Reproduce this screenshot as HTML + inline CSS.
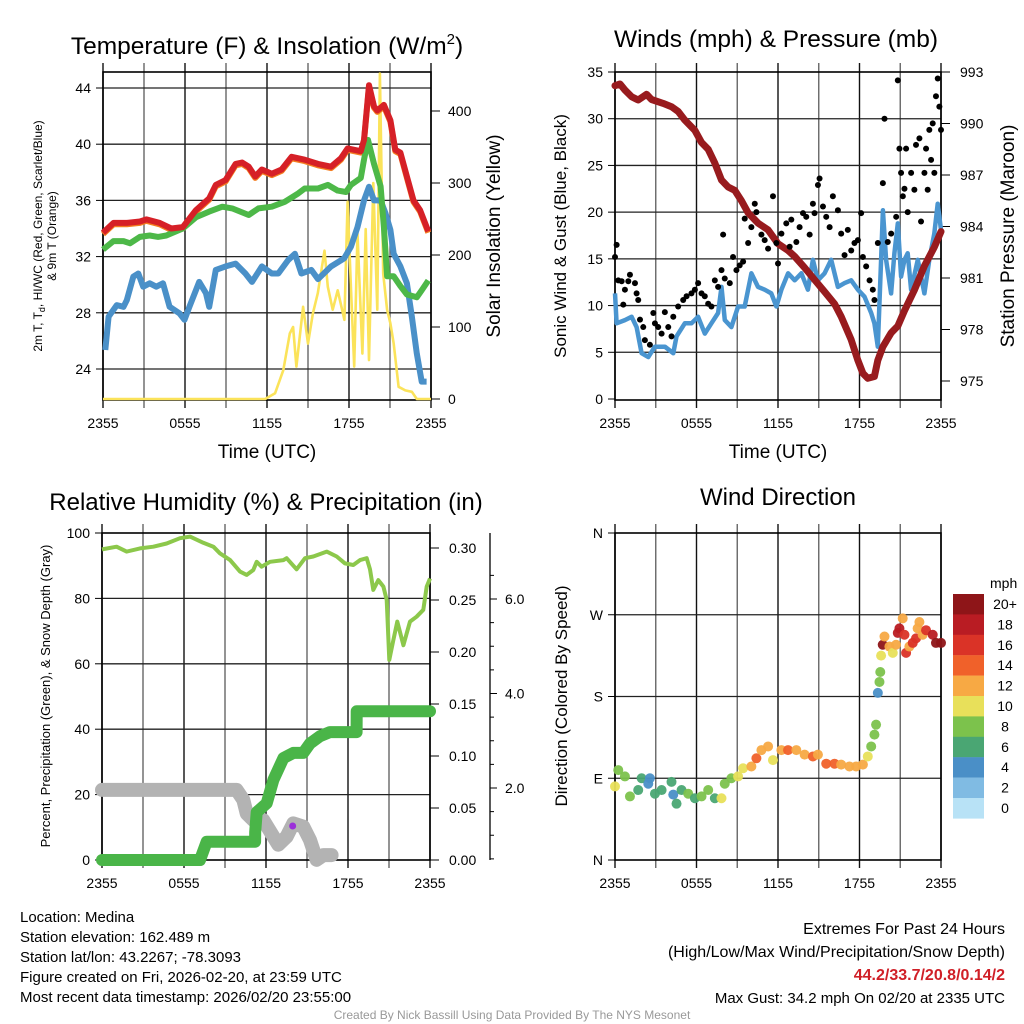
<!DOCTYPE html>
<html><head><meta charset="utf-8">
<style>
html,body{margin:0;padding:0;background:#fff;}
svg{display:block;font-family:"Liberation Sans",Arial,sans-serif;}
</style></head>
<body>
<svg id="fig" width="1024" height="1024" viewBox="0 0 1024 1024" xmlns="http://www.w3.org/2000/svg">
<text x="267" y="54" font-size="24.5" text-anchor="middle">Temperature (F) &amp; Insolation (W/m<tspan font-size="15" dy="-10">2</tspan><tspan dy="10">)</tspan></text>
<text x="776" y="47" font-size="24.5" text-anchor="middle">Winds (mph) &amp; Pressure (mb)</text>
<text x="266" y="510" font-size="24" text-anchor="middle">Relative Humidity (%) &amp; Precipitation (in)</text>
<text x="778" y="505" font-size="24" text-anchor="middle">Wind Direction</text>

<text transform="translate(42,236) rotate(-90)" font-size="12" text-anchor="middle">2m T, T<tspan font-size="9" dy="3">d</tspan><tspan dy="-3">, HI/WC (Red, Green, Scarlet/Blue)</tspan></text>
<text transform="translate(56,236) rotate(-90)" font-size="12" text-anchor="middle">&amp; 9m T (Orange)</text>
<text transform="translate(500,236) rotate(-90)" font-size="19" text-anchor="middle">Solar Insolation (Yellow)</text>
<text x="267" y="458" font-size="19" text-anchor="middle">Time (UTC)</text>
<text transform="translate(566,236) rotate(-90)" font-size="17" text-anchor="middle">Sonic Wind &amp; Gust (Blue, Black)</text>
<text transform="translate(1014,236) rotate(-90)" font-size="19" text-anchor="middle">Station Pressure (Maroon)</text>
<text x="778" y="458" font-size="19" text-anchor="middle">Time (UTC)</text>
<text transform="translate(50,696) rotate(-90)" font-size="13" text-anchor="middle">Percent, Precipitation (Green), &amp; Snow Depth (Gray)</text>
<text transform="translate(567,696) rotate(-90)" font-size="17" text-anchor="middle">Direction (Colored By Speed)</text>
<g id="layer"></g>
<g font-size="15">
<text x="20" y="922">Location: Medina</text>
<text x="20" y="942">Station elevation: 162.489 m</text>
<text x="20" y="962">Station lat/lon: 43.2267; -78.3093</text>
<text x="20" y="982">Figure created on Fri, 2026-02-20, at 23:59 UTC</text>
<text x="20" y="1002">Most recent data timestamp: 2026/02/20 23:55:00</text>
</g>
<g font-size="16" text-anchor="end">
<text x="1005" y="934">Extremes For Past 24 Hours</text>
<text x="1005" y="957">(High/Low/Max Wind/Precipitation/Snow Depth)</text>
<text x="1005" y="980" fill="#d01f27" font-weight="bold">44.2/33.7/20.8/0.14/2</text>
<text x="1005" y="1003" font-size="15">Max Gust: 34.2 mph On 02/20 at 2335 UTC</text>
</g>
<text x="512" y="1019" font-size="12" fill="#999" text-anchor="middle">Created By Nick Bassill Using Data Provided By The NYS Mesonet</text>
</svg>
<script>
// ---- Shared time axis ----
const timeTicks = ["2355","0555","1155","1755","2355"];
// ---- Panel 1: temperature (hours since 2355, deg F) ----
const tempT = [0,0.77,1.74,2.7,3.18,4.15,5.0,5.84,6.8,7.77,8.25,8.97,9.7,10.18,10.66,11.14,11.63,12.35,13.07,13.8,14.76,15.73,16.69,17.41,17.9,18.86,19.1,19.46,19.83,20.07,20.55,21.03,21.39,21.76,22.24,22.72,23.2,23.8];
const tempV = [33.7,34.4,34.4,34.5,34.65,34.4,34.0,34.1,35.3,36.15,37.1,37.45,38.6,38.7,38.4,37.7,38.2,37.9,38.2,39.1,38.9,38.6,38.4,39.0,39.7,39.5,40.3,44.2,42.7,42.4,42.8,41.7,39.6,39.4,37.7,36.0,35.3,33.8];
const dewT = [0,0.77,1.5,1.98,2.7,3.42,4.03,4.63,5.84,6.8,7.77,8.73,9.45,10.66,11.38,12.35,13.3,14.28,14.76,15.73,16.45,17.17,17.78,18.14,18.86,19.1,19.39,19.83,20.31,20.55,20.79,21.27,21.76,22.24,22.96,23.32,23.8];
const dewV = [32.5,33.1,33.1,32.95,33.4,33.5,33.4,33.5,34.0,34.8,35.2,35.55,35.43,34.96,35.43,35.55,35.9,36.5,36.85,36.85,37.1,36.7,36.6,37.1,37.6,38.9,40.3,38.6,37.0,34.1,30.6,30.6,29.9,29.3,29.1,29.6,30.3];
const hiwcT = [0.17,0.41,1.01,1.5,1.74,2.22,2.58,2.94,3.42,3.9,4.39,4.87,5.6,5.96,6.32,7.04,7.53,7.77,8.25,8.97,9.7,10.42,10.9,11.63,12.35,12.83,13.55,14.04,14.52,15.24,15.73,16.69,17.65,18.14,18.62,19.1,19.46,19.83,20.31,20.67,21.03,21.27,21.76,22.24,22.6,22.96,23.32,23.68];
const hiwcV = [25.35,27.72,28.55,28.43,28.9,30.57,30.8,29.86,30.1,29.86,30.1,28.43,27.96,27.5,28.43,30.2,29.4,28.43,31.05,31.3,31.5,30.8,30.2,31.3,30.8,30.8,31.76,32.2,30.8,31.05,30.4,31.3,31.88,32.7,34.1,36.0,36.97,36.0,36.0,35.08,33.9,32.2,31.3,30.1,27.7,25.1,23.1,23.1];
const solarT = [0,11.87,12.59,13.19,13.67,13.91,14.15,14.64,15.0,15.36,15.72,16.21,16.45,16.81,17.17,17.66,17.9,18.14,18.38,18.62,18.98,19.22,19.46,19.78,20.07,20.26,20.5,20.79,21.03,21.27,21.63,22.12,22.6,22.96,24];
const solarV = [0,0,8,40,91,100,45,128,77,119,147,206,156,124,151,110,274,156,45,230,63,236,54,300,124,452,174,124,105,77,17,12,10,0,0];
const tempTicks = [24,28,32,36,40,44];
const solarTicks = [0,100,200,300,400];
// ---- Panel 2: winds & pressure ----
const presT = [0,0.37,0.73,1.22,1.71,2.33,2.69,3.55,4.16,4.65,5.14,5.88,6.37,6.86,7.35,7.84,8.33,8.82,9.31,9.8,10.53,11.27,12.0,12.74,13.23,13.96,14.69,15.43,16.16,16.65,17.39,17.88,18.25,18.61,19.1,19.35,19.72,20.33,20.82,21.31,22.04,22.78,23.51,24];
const presV = [992.2,992.3,991.95,991.56,991.37,991.7,991.4,991.17,990.98,990.7,990.2,989.6,988.9,988.5,987.7,986.7,986.3,986.1,985.5,984.8,984.2,983.8,983.0,982.6,982.25,981.6,980.9,980.2,979.5,978.75,977.4,976.2,975.45,975.16,975.26,976.2,977.0,977.8,978.2,979.1,980.3,981.7,982.8,983.7];
const windT = [0,0.12,0.73,1.22,1.59,1.96,2.45,2.94,3.67,4.29,4.53,5.14,5.63,6.12,6.61,7.1,7.59,7.84,8.08,8.57,9.06,9.55,10.04,10.53,11.02,11.51,11.88,12.25,12.74,13.23,13.72,14.2,14.57,14.94,15.43,15.92,16.41,16.9,17.39,17.88,18.37,18.86,19.1,19.35,19.59,19.72,19.96,20.33,20.57,20.82,21.06,21.31,21.55,21.8,22.29,22.78,23.14,23.51,23.76,24];
const windV = [11.3,8.1,8.45,8.8,7.7,4.9,4.5,5.6,5.6,4.9,6.7,8.1,8.1,8.8,7.0,8.1,9.2,12.0,8.45,7.7,9.9,9.9,13.45,12.0,11.7,11.3,9.9,11.7,13.45,12.7,13.45,11.7,14.9,12.7,13.45,14.9,12.0,12.4,12.7,11.7,10.95,9.2,8.1,5.6,14.9,20.2,14.9,11.3,15.6,18.8,13.1,14.9,15.6,11.7,14.9,11.3,14.9,17.7,20.9,18.1];
const gustT = [0,0.12,0.24,0.49,0.73,0.98,1.1,1.47,1.59,1.71,0.61,1.84,2.08,2.2,2.57,2.82,2.94,3.18,3.43,3.67,3.92,4.16,4.29,4.65,5.02,5.27,5.63,5.88,6.12,6.37,6.61,6.86,7.1,7.35,7.59,7.84,7.96,8.08,8.45,8.69,8.94,9.18,9.43,9.55,9.8,10.04,10.29,10.41,10.78,11.02,11.27,11.63,11.88,12.0,12.25,12.61,12.86,12.98,13.35,13.59,13.84,14.08,14.33,14.57,14.69,14.94,15.06,15.31,15.55,15.8,16.04,16.41,16.65,16.9,17.14,17.39,17.63,17.88,18.12,18.25,18.49,18.74,18.98,19.1,19.35,19.72,19.84,20.08,20.33,20.7,20.82,20.94,21.06,21.19,21.31,21.43,21.55,21.8,22.04,22.16,22.41,22.53,22.78,22.9,23.02,23.14,23.27,23.39,23.51,23.63,23.76,23.88,24.0];
const gustV = [15.2,16.5,12.7,12.6,11.7,12.6,13.3,12.4,11.3,10.6,10.1,8.5,7.7,6.3,5.8,9.2,8.1,7.7,7.0,9.3,7.7,6.7,8.8,9.9,10.6,11.0,11.3,11.7,12.4,11.3,11.0,10.2,9.9,12.7,12.0,13.8,17.6,12.9,12.4,15.2,13.8,14.3,14.7,19.3,16.7,18.4,20.9,20.0,17.6,17.0,16.1,21.7,16.7,14.5,17.7,18.8,16.3,19.2,16.8,18.4,19.9,19.5,17.6,20.9,19.9,22.9,23.6,20.6,19.5,18.4,21.7,20.2,17.7,15.4,18.1,15.9,16.7,17.0,19.9,15.2,14.2,12.7,11.7,10.6,16.7,23.1,30.0,16.8,17.7,19.5,34.1,26.8,24.2,21.7,22.5,26.8,20.0,24.2,22.4,27.2,27.9,19.0,24.2,26.8,22.4,28.8,25.6,29.5,24.2,32.4,34.3,31.3,28.8];
const windTicks = [0,5,10,15,20,25,30,35];
const presTicks = [975,978,981,984,987,990,993];
// ---- Panel 3: humidity / precipitation / snow ----
const rhT = [0,1.07,1.8,2.78,3.76,4.73,5.71,6.44,7.41,8.15,8.63,9.37,10.1,10.59,11.07,11.32,11.68,12.29,13.27,13.51,14.24,14.85,15.46,16.44,17.17,17.78,18.39,18.88,19.37,19.61,19.85,20.22,20.59,20.83,21.02,21.32,21.61,22.05,22.54,23.02,23.51,23.76,24.0];
const rhV = [95.0,95.8,94.3,95.3,95.8,96.8,98.4,98.9,97.0,95.8,93.8,91.7,88.2,87.2,88.7,91.2,89.7,91.2,91.7,92.3,88.9,92.3,92.8,94.3,92.8,90.7,90.2,91.7,92.3,88.9,82.6,85.6,83.6,79.5,61.2,67.3,72.9,65.7,72.9,74.4,76.5,83.6,86.1];
const precipT = [0,7.17,7.66,11.2,11.21,11.32,12.05,12.54,13.27,14.0,14.73,15.22,15.95,16.68,18.63,18.64,24];
const precipV = [0,0,0.0176,0.0176,0.027,0.046,0.0545,0.077,0.098,0.103,0.103,0.112,0.119,0.123,0.123,0.143,0.143];
const snowT = [0,9.85,10.34,10.59,11.07,11.8,12.54,12.9,13.51,14.0,14.73,15.22,15.7,16.2,16.8];
const snowV = [1.96,1.96,1.75,1.46,1.32,1.32,0.97,0.80,0.97,1.25,1.18,0.90,0.48,0.58,0.58];
const markT = [13.95];
const markV = [10.4];
const rhTicks = [0,20,40,60,80,100];
const precipTicks = ["0.00","0.05","0.10","0.15","0.20","0.25","0.30"];
const snowTicks = ["2.0","4.0","6.0"];
// ---- Panel 4: wind direction (deg) colored by speed (mph) ----
const dirT = [0,0.24,0.73,1.1,1.71,1.96,2.45,2.57,2.94,3.43,4.16,4.29,4.53,4.9,5.39,5.88,6.37,6.86,7.35,7.84,8.08,8.57,9.06,9.43,10.04,10.41,10.78,11.27,11.63,12.25,12.74,13.35,13.96,14.57,14.94,15.55,16.16,16.65,17.26,17.75,18.25,18.61,18.86,19.1,19.22,19.35,19.47,19.53,19.59,19.71,19.84,20.2,20.45,20.69,20.82,20.94,21.18,21.31,21.43,21.67,21.92,22.16,22.28,22.41,22.65,22.9,23.39,23.63,24.0];
const dirV = [81,99,92,70,77,90,84,90,73,77,86,72,62,77,73,68,70,77,68,68,84,90,92,101,103,112,121,125,110,121,121,121,116,114,116,106,106,105,103,103,105,114,125,138,149,184,196,207,225,237,246,235,228,237,250,255,266,248,228,235,239,244,255,262,248,253,248,239,239];
const dirS = [10,8,8,8,6,6,4,4,6,6,6,4,6,6,8,6,8,8,6,10,8,8,10,10,12,14,12,12,10,12,14,12,12,14,12,14,14,12,12,12,12,10,8,8,8,4,8,8,10,20,12,12,10,12,18,18,12,16,16,12,16,16,12,12,12,16,18,20,20];
const dirTicks = ["N","E","S","W","N"];
const speedLabels = ["20+","18","16","14","12","10","8","6","4","2","0"];
const speedColors = ["#8e1518","#b91c23","#da3327","#f0612a","#f7a944","#e8e05a","#7cc24c","#4aa673","#4a8fc7","#80bbe3","#b8e2f6"];

const NS = "http://www.w3.org/2000/svg";
const layer = document.getElementById("layer");
function mk(tag, attrs, parent) {
  const e = document.createElementNS(NS, tag);
  for (const k in attrs) e.setAttribute(k, attrs[k]);
  (parent || layer).appendChild(e);
  return e;
}
function lin(d0, d1, r0, r1) { return v => r0 + (v - d0) / (d1 - d0) * (r1 - r0); }
function pathD(xs, ys, sx, sy) { return xs.map((t, i) => (i ? "L" : "M") + sx(t).toFixed(1) + "," + sy(ys[i]).toFixed(1)).join(""); }

function frame(L, R, T, B, hLines, name) {
  const g = mk("g", {});
  
  
  for (let i = 0; i <= 8; i++) {
    const x = L + (R - L) * i / 8;
    mk("line", { x1: x, x2: x, y1: T - 9, y2: B + 8, stroke: i % 2 ? "#666" : "#111", "stroke-width": 1.4 }, g);
  }
  hLines.forEach(y => mk("line", { x1: L, x2: R, y1: y, y2: y, stroke: "#222", "stroke-width": 1.3 }, g));
  mk("rect", { x: L, y: T, width: R - L, height: B - T, fill: "none", stroke: "#000", "stroke-width": 1.6 }, g);
  const xs = lin(0, 24, L, R);
  timeTicks.forEach((lab, i) => {
    const tx = mk("text", { x: xs(i * 6), y: B + 28, "font-size": 14, "text-anchor": "middle" });
    
    
    tx.textContent = lab;
  });
}
function lbl(x, y, s, anchor, name, size) {
  const t = mk("text", { x: x, y: y, "font-size": size || 14, "text-anchor": anchor });
  
  
  t.textContent = s;
  return t;
}

// ===== Panel 1 =====
(function(){
  const L=103,R=431,T=72,B=400;
  const sx = lin(0,24,L,R), sy = lin(24,44,369,88), ss = lin(0,400,399,111);
  frame(L,R,T,B,tempTicks.map(sy),"temperature");
  tempTicks.forEach(v=>{ mk("line",{x1:L-7,x2:L,y1:sy(v),y2:sy(v),stroke:"#000"}); lbl(L-12,sy(v)+5,String(v),"end","temperature-tick-label"); });
  solarTicks.forEach(v=>{ mk("line",{x1:R,x2:R+9,y1:ss(v),y2:ss(v),stroke:"#000"}); lbl(R+17,ss(v)+5,String(v),"start","solar-tick-label"); });
  const c = mk("g",{});
  const s1 = mk("path",{d:pathD(solarT,solarV,sx,ss),fill:"none",stroke:"#fbe35a","stroke-width":2.6,"stroke-linejoin":"round"},c);
  
  
  const o = mk("path",{d:pathD(tempT,tempV.map(v=>v-0.1),sx,sy),fill:"none",stroke:"#f47d20","stroke-width":6,"stroke-linejoin":"round"},c);
  
  
  const h = mk("path",{d:pathD(hiwcT,hiwcV,sx,sy),fill:"none",stroke:"#4a90c8","stroke-width":6,"stroke-linejoin":"round"},c);
  
  
  const d = mk("path",{d:pathD(dewT,dewV,sx,sy),fill:"none",stroke:"#4db848","stroke-width":6,"stroke-linejoin":"round"},c);
  
  
  const r = mk("path",{d:pathD(tempT,tempV,sx,sy),fill:"none",stroke:"#d62027","stroke-width":6,"stroke-linejoin":"round"},c);
  
  
})();

// ===== Panel 2 =====
(function(){
  const L=615,R=941,T=72,B=400;
  const sx = lin(0,24,L,R), sw = lin(0,35,399,72), sp = lin(975,993,381,72);
  frame(L,R,T,B,windTicks.slice(1,7).map(sw),"wind");
  windTicks.forEach(v=>{ mk("line",{x1:L-7,x2:L,y1:sw(v),y2:sw(v),stroke:"#000"}); lbl(L-12,sw(v)+5,String(v),"end","wind-tick-label"); });
  presTicks.forEach(v=>{ mk("line",{x1:R,x2:R+9,y1:sp(v),y2:sp(v),stroke:"#000"}); lbl(R+19,sp(v)+5,String(v),"start","pressure-tick-label"); });
  const w = mk("path",{d:pathD(windT,windV,sx,sw),fill:"none",stroke:"#4a95d0","stroke-width":4.5,"stroke-linejoin":"round"});
  
  
  const p = mk("path",{d:pathD(presT,presV,sx,sp),fill:"none",stroke:"#981b1e","stroke-width":7,"stroke-linejoin":"round","stroke-linecap":"round"});
  
  
  gustT.forEach((t,i)=>{
    const c = mk("circle",{cx:sx(t),cy:sw(gustV[i]),r:3,fill:"#000"});
    
    
  });
})();

// ===== Panel 3 =====
(function(){
  const L=102,R=430,T=533,B=860;
  const sx = lin(0,24,L,R), sr = lin(0,100,860,533), sp = lin(0,0.30,860,548), sn = lin(2,6,788,599);
  frame(L,R,T,B,rhTicks.slice(1,5).map(sr),"humidity");
  rhTicks.forEach(v=>{ mk("line",{x1:L-7,x2:L,y1:sr(v),y2:sr(v),stroke:"#000"}); lbl(L-12,sr(v)+5,String(v),"end","humidity-tick-label"); });
  precipTicks.forEach(v=>{ mk("line",{x1:R,x2:R+9,y1:sp(+v),y2:sp(+v),stroke:"#000"}); lbl(R+19,sp(+v)+5,v,"start","precip-tick-label"); });
  mk("line",{x1:490,x2:490,y1:533,y2:860,stroke:"#000","stroke-width":1.3});
  for(let k=0;k<13;k++){ const y=sn(0.5+k*0.5); if(y>=533&&y<=860) mk("line",{x1:490,x2:494,y1:y,y2:y,stroke:"#000"}); }
  snowTicks.forEach(v=>{ mk("line",{x1:490,x2:497,y1:sn(+v),y2:sn(+v),stroke:"#000"}); lbl(505,sn(+v)+5,v,"start","snow-tick-label"); });
  const s = mk("path",{d:pathD(snowT,snowV,sx,sn),fill:"none",stroke:"#b3b3b3","stroke-width":14,"stroke-linejoin":"round","stroke-linecap":"round"});
  
  
  const pr = mk("path",{d:pathD(precipT,precipV,sx,sp),fill:"none",stroke:"#4ab548","stroke-width":12,"stroke-linejoin":"round","stroke-linecap":"round"});
  
  
  const rh = mk("path",{d:pathD(rhT,rhV,sx,sr),fill:"none",stroke:"#8cc84b","stroke-width":4,"stroke-linejoin":"round"});
  
  
  markT.forEach((t,i)=>{
    const m = mk("circle",{cx:sx(t),cy:sr(markV[i]),r:3.5,fill:"#9b30d9"});
    
    
  });
})();

// ===== Panel 4 =====
(function(){
  const L=615,R=941,T=533,B=860;
  const sx = lin(0,24,L,R), sd = lin(0,360,860,533);
  frame(L,R,T,B,[90,180,270].map(sd),"direction");
  dirTicks.forEach((v,i)=>{ mk("line",{x1:L-7,x2:L,y1:sd(i*90),y2:sd(i*90),stroke:"#000"}); lbl(L-12,sd(i*90)+5,v,"end","direction-tick-label"); });
  function col(s){ let idx = Math.round(s/2); if(idx>10) idx=10; return speedColors[10-idx]; }
  dirT.forEach((t,i)=>{
    const c = mk("circle",{cx:sx(t),cy:sd(dirV[i]),r:5,fill:col(dirS[i]),"fill-opacity":0.95});
    
    
  });
  const cb = mk("g",{});
  
  
  lbl(990,588,"mph","start","colorbar-title",14);
  speedLabels.forEach((s,i)=>{
    mk("rect",{x:953,y:594+i*20.4,width:31,height:20.6,fill:speedColors[i]},cb);
    lbl(1005,594+i*20.4+15,s,"middle","colorbar-label",14);
  });
})();
</script>
</body></html>
